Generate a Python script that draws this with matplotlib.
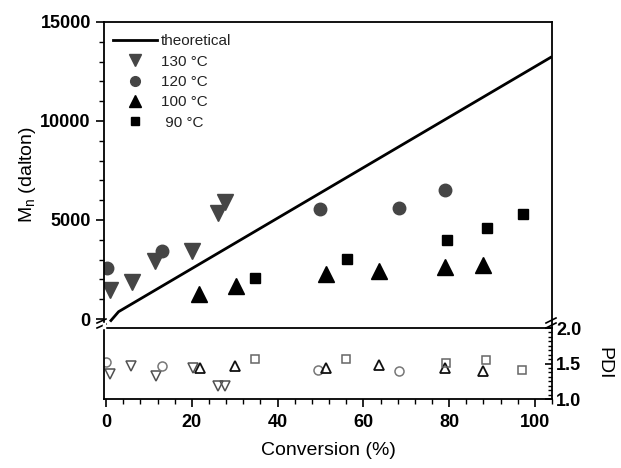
import numpy as np, matplotlib
matplotlib.use("Agg"); import matplotlib.pyplot as plt
from matplotlib.ticker import MultipleLocator, AutoMinorLocator
from matplotlib.lines import Line2D

# Mn vs conversion, four temperatures
conv_130 = [0.9, 6.0, 11.4, 20.0, 26.0, 27.7]
mn_130   = [1450, 1850, 2950, 3450, 5350, 5900]
conv_120 = [0.3, 13.0, 49.8, 68.4, 79.0]
mn_120   = [2570, 3430, 5560, 5600, 6520]
conv_100 = [21.7, 30.2, 51.3, 63.7, 79.0, 87.8]
mn_100   = [1250, 1650, 2250, 2400, 2650, 2750]
conv_90  = [34.8, 56.2, 79.5, 88.8, 97.2]
mn_90    = [2060, 3030, 3990, 4600, 5300]

# theoretical Mn
conv_th = [0.9, 2.9, 104.0]
mn_th   = [-130, 370, 13250]

# PDI vs conversion
pc_130 = [0.9, 5.7, 11.6, 20.2, 26.0, 27.7]
pdi_130 = [1.35, 1.46, 1.32, 1.43, 1.18, 1.19]
pc_120 = [0.0, 13.0, 49.5, 68.4]
pdi_120 = [1.52, 1.46, 1.41, 1.39]
pc_100 = [22.0, 30.0, 51.3, 63.7, 79.0, 88.0]
pdi_100 = [1.44, 1.47, 1.43, 1.48, 1.43, 1.40]
pc_90 = [34.7, 56.0, 79.2, 88.5, 97.0]
pdi_90 = [1.56, 1.56, 1.51, 1.55, 1.41]

GR = "#454545"
plt.rcParams.update({"font.family": ["Liberation Sans", "DejaVu Sans"],
                     "axes.linewidth": 1.3, "xtick.major.width": 1.2,
                     "ytick.major.width": 1.2, "xtick.minor.width": 1.0,
                     "ytick.minor.width": 1.0, "text.color": "#222222"})

fig = plt.figure(figsize=(6.21, 4.68), dpi=100)
ax1 = fig.add_axes([0.1675, 0.2991, 0.7214, 0.654])
ax2 = fig.add_axes([0.1675, 0.1474, 0.7214, 0.1517])

xl = (-0.5, 104)

# upper panel
ax1.plot(conv_th, mn_th, color="k", lw=2, solid_capstyle="butt")
ax1.plot(conv_130, mn_130, "v", color=GR, ms=11, ls="none")
ax1.plot(conv_120, mn_120, "o", color=GR, ms=9, ls="none")
ax1.plot(conv_100, mn_100, "^", color="k", ms=11, ls="none")
ax1.plot(conv_90, mn_90, "s", color="k", ms=7.5, ls="none")
ax1.set_xlim(*xl); ax1.set_ylim(-455, 15000)
ax1.set_xticks([])
ax1.yaxis.set_major_locator(MultipleLocator(5000))
ax1.yaxis.set_minor_locator(MultipleLocator(1000))
ax1.tick_params(axis="y", which="major", direction="out", length=6, labelsize=13)
ax1.tick_params(axis="y", which="minor", direction="out", length=3.5)
for t in ax1.get_yticklabels():
    t.set_fontweight("bold")
ax1.spines["bottom"].set_visible(False)
ax1.set_ylabel("M$_\\mathregular{n}$ (dalton)", fontsize=14, labelpad=2)

handles = [Line2D([], [], color="k", lw=2),
           Line2D([], [], marker="v", color=GR, ls="none", ms=8),
           Line2D([], [], marker="o", color=GR, ls="none", ms=7),
           Line2D([], [], marker="^", color="k", ls="none", ms=8),
           Line2D([], [], marker="s", color="k", ls="none", ms=6)]
labels = ["theoretical", "130 °C", "120 °C", "100 °C", " 90 °C"]
ax1.legend(handles, labels, frameon=False, fontsize=11, loc="upper left",
           bbox_to_anchor=(0.0, 0.99), borderaxespad=0.3, handlelength=2.9,
           handletextpad=0.25, labelspacing=0.42, borderpad=0.3)

# lower panel
ax2.plot(pc_130, pdi_130, "v", mfc="none", mec="#505050", mew=1.1, ms=7, ls="none")
ax2.plot(pc_120, pdi_120, "o", mfc="none", mec="#777777", mew=1.1, ms=6.5, ls="none")
ax2.plot(pc_100, pdi_100, "^", mfc="none", mec="#111111", mew=1.3, ms=7, ls="none")
ax2.plot(pc_90, pdi_90, "s", mfc="none", mec="#666666", mew=1.1, ms=6, ls="none")
ax2.set_xlim(*xl); ax2.set_ylim(1.0, 2.0)
ax2.xaxis.set_major_locator(MultipleLocator(20))
ax2.xaxis.set_minor_locator(MultipleLocator(4))
ax2.tick_params(axis="x", which="major", direction="out", length=6, labelsize=13, pad=5)
ax2.tick_params(axis="x", which="minor", direction="out", length=3.5)
for t in ax2.get_xticklabels():
    t.set_fontweight("bold")
ax2.yaxis.tick_right(); ax2.yaxis.set_label_position("right")
ax2.set_yticks([1.0, 1.5, 2.0])
ax2.yaxis.set_minor_locator(AutoMinorLocator(8))
ax2.tick_params(axis="y", which="major", direction="in", length=5, labelsize=13, pad=3)
ax2.tick_params(axis="y", which="minor", direction="in", length=3)
for t in ax2.get_yticklabels():
    t.set_fontweight("bold")
ax2.set_ylabel("PDI", fontsize=14, rotation=270, labelpad=22)
ax2.set_xlabel("Conversion (%)", fontsize=14, labelpad=8)

# axis break marks
kw = dict(color="k", lw=1.2, clip_on=False, transform=fig.transFigure)
fw, fh = 621.0, 468.0
for (x0, y0) in [(97, 323), (97, 328)]:
    fig.add_artist(Line2D([x0 / fw, (x0 + 9) / fw], [1 - y0 / fh, 1 - (y0 - 4) / fh], **kw))
for (x0, y0) in [(546, 323), (546, 328)]:
    fig.add_artist(Line2D([x0 / fw, (x0 + 10) / fw], [1 - y0 / fh, 1 - (y0 - 5) / fh], **kw))
# white gaps in spines at the breaks
fig.add_artist(Line2D([104 / fw, 104 / fw], [1 - 323.5 / fh, 1 - 326.5 / fh],
                      color="white", lw=2.5, transform=fig.transFigure))

fig.savefig("out.png", dpi=100)
